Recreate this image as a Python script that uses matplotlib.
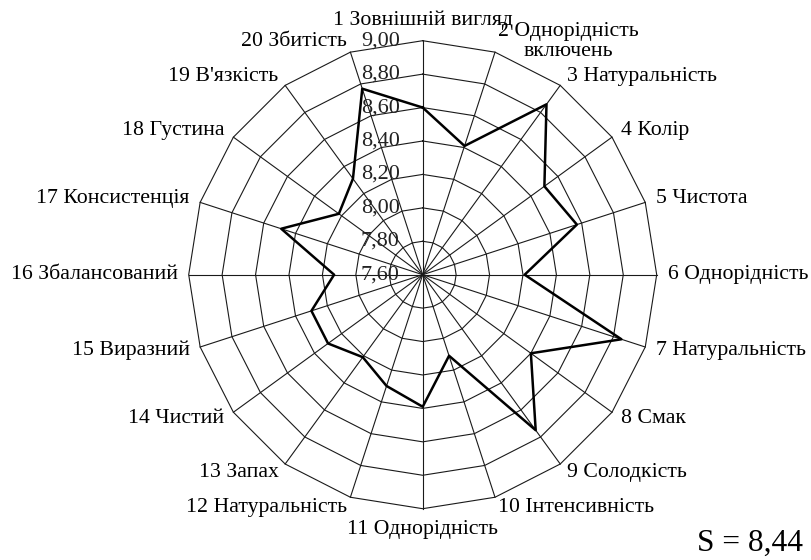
import numpy as np
import matplotlib
matplotlib.use("Agg")
import matplotlib.pyplot as plt

# показники (назви осей)
labels = [
    "1 Зовнішній вигляд", "2 Однорідність\nвключень", "3 Натуральність",
    "4 Колір", "5 Чистота", "6 Однорідність", "7 Натуральність", "8 Смак",
    "9 Солодкість", "10 Інтенсивність", "11 Однорідність", "12 Натуральність",
    "13 Запах", "14 Чистий", "15 Виразний", "16 Збалансований",
    "17 Консистенція", "18 Густина", "19 В'язкість", "20 Збитість",
]
# оцінки
values = [8.60, 8.41, 8.86, 8.50, 8.57, 8.21, 8.85, 8.40, 8.75, 8.11,
          8.39, 8.30, 8.21, 8.30, 8.30, 8.13, 8.49, 8.22, 8.31, 8.77]
levels = [7.60, 7.80, 8.00, 8.20, 8.40, 8.60, 8.80, 9.00]
level_labels = ["7,60", "7,80", "8,00", "8,20", "8,40", "8,60", "8,80", "9,00"]
score_text = "S = 8,44"

vmin, vmax = levels[0], levels[-1]
n = len(labels)
ang = np.arange(n) * 2 * np.pi / n  # за годинниковою стрілкою від верху

W, H = 811, 560
cx, cy = 422.7, 274.7
px = 234 / (vmax - vmin)  # пікселів на одиницю

fig = plt.figure(figsize=(W / 100, H / 100), dpi=100)
ax = fig.add_axes([0, 0, 1, 1])
ax.set_xlim(-cx / px, (W - cx) / px)
ax.set_ylim(-(H - cy) / px, cy / px)
ax.axis("off")

plt.rcParams["font.family"] = ["Liberation Serif", "DejaVu Serif"]

def xy(v, a):
    r = np.asarray(v) - vmin
    return r * np.sin(a), r * np.cos(a)

# сітка: багатокутники
ac = np.append(ang, ang[0])
for lv in levels[1:]:
    x, y = xy(np.full(n + 1, lv), ac)
    ax.plot(x, y, color="#1a1a1a", lw=0.8, zorder=1)
# промені
for a in ang:
    x, y = xy([vmin, vmax], [a, a])
    ax.plot(x, y, color="#1a1a1a", lw=0.8, zorder=1)

# дані
x, y = xy(np.append(values, values[0]), ac)
ax.plot(x, y, color="black", lw=1.8, zorder=3)

# підписи рівнів
for lv, t in zip(levels, level_labels):
    ax.text(-23 / px, lv - vmin, t, ha="right", va="center",
            fontsize=16, color="#222222", zorder=2)

# підписи осей
rl = (vmax - vmin) + 11 / px
for a, t in zip(ang, labels):
    s, c = np.sin(a), np.cos(a)
    lx, ly = rl * s, rl * c
    if abs(s) < 0.1:
        ha = "center"
        va = "bottom" if c > 0 else "top"
    else:
        ha = "left" if s > 0 else "right"
        va = "center"
    ax.text(lx, ly, t, ha=ha, va=va, fontsize=15.7, multialignment="center",
            linespacing=1.1, color="black")

ax.text((803 - cx) / px, -(543 - cy) / px, score_text, ha="right", va="center",
        fontsize=22.6, color="black")

fig.savefig("out.png", dpi=100)
